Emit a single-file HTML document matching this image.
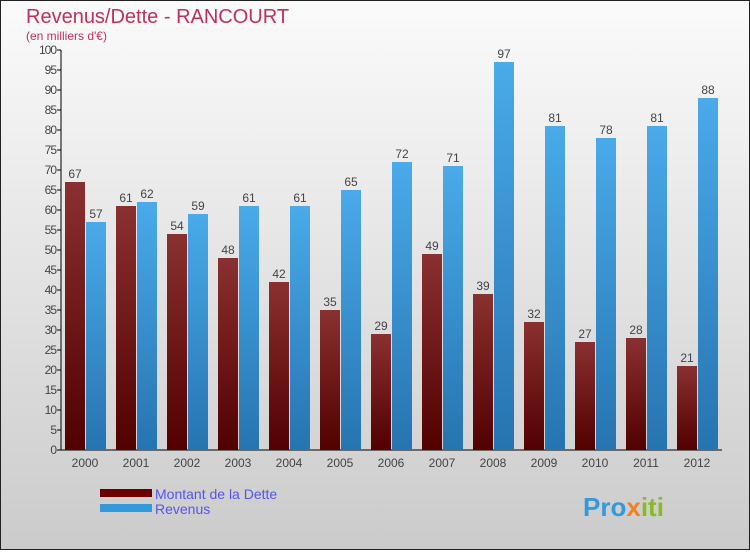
<!DOCTYPE html>
<html><head><meta charset="utf-8"><style>
body{margin:0;width:750px;height:550px;overflow:hidden;font-family:"Liberation Sans",sans-serif}
</style></head><body>
<svg width="750" height="550" xmlns="http://www.w3.org/2000/svg">
<defs>
<linearGradient id="bg" x1="0" y1="0" x2="0" y2="1"><stop offset="0" stop-color="#fbfbfb"/><stop offset="1" stop-color="#cbcbcb"/></linearGradient>
<linearGradient id="gd" x1="0" y1="0" x2="0" y2="1"><stop offset="0" stop-color="#8a3030"/><stop offset="1" stop-color="#520000"/></linearGradient>
<linearGradient id="gr" x1="0" y1="0" x2="0" y2="1"><stop offset="0" stop-color="#4aaaea"/><stop offset="1" stop-color="#2674b0"/></linearGradient>
</defs>
<rect x="0.5" y="0.5" width="749" height="549" fill="url(#bg)" stroke="#222"/>
<text x="26" y="23" font-size="20" fill="#c0305a">Revenus/Dette - RANCOURT</text>
<text x="26" y="40" font-size="12" fill="#c0305a">(en milliers d'€)</text>
<g id="axes"></g>
<g id="bars"></g>
<rect x="100" y="489" width="52" height="8" fill="#6a0000"/>
<text x="155" y="499" font-size="14" fill="#5555ee">Montant de la Dette</text>
<rect x="100" y="504" width="52" height="8" fill="#3399dd"/>
<text x="155" y="514" font-size="14" fill="#5555ee">Revenus</text>
<text x="583" y="516" font-size="26" font-weight="bold" fill="#3399dd">Pro<tspan fill="#f08020">x</tspan><tspan fill="#88bb22">iti</tspan></text>
</svg>
<script>
const years=["2000","2001","2002","2003","2004","2005","2006","2007","2008","2009","2010","2011","2012"];
const dette=[67,61,54,48,42,35,29,49,39,32,27,28,21];
const revenus=[57,62,59,61,61,65,72,71,97,81,78,81,88];
const yTicks=[0,5,10,15,20,25,30,35,40,45,50,55,60,65,70,75,80,85,90,95,100];
const NS="http://www.w3.org/2000/svg";
const y=v=>450-v*4;
const gx=i=>65+i*51;
const ax=document.getElementById('axes'),bg=document.getElementById('bars');
function mk(tag,attrs,parent,txt){const e=document.createElementNS(NS,tag);for(const k in attrs)e.setAttribute(k,attrs[k]);if(txt!==undefined)e.textContent=txt;parent.appendChild(e);return e;}
let l=mk('line',{x1:61,y1:50,x2:61,y2:450,stroke:'#000'},ax);


l=mk('line',{x1:61,y1:450,x2:722,y2:450,stroke:'#000'},ax);


yTicks.forEach(t=>{
  const tk=mk('line',{x1:57,y1:y(t),x2:61,y2:y(t),stroke:'#000'},ax);
  
  
  const tl=mk('text',{x:56,y:y(t)+4,'font-size':12,'text-anchor':'end',fill:'#444','letter-spacing':'-1'},ax,String(t));
  
  
});
years.forEach((yr,i)=>{
  const x0=gx(i);
  const xl=mk('text',{x:x0+20,y:467,'font-size':12,'text-anchor':'middle',fill:'#444'},ax,yr);
  
  
  const b1=mk('rect',{x:x0,y:y(dette[i]),width:20,height:dette[i]*4,fill:'url(#gd)'},bg);
  
  
  const b2=mk('rect',{x:x0+21,y:y(revenus[i]),width:20,height:revenus[i]*4,fill:'url(#gr)'},bg);
  
  
  const v1=mk('text',{x:x0+10,y:y(dette[i])-4,'font-size':12,'text-anchor':'middle',fill:'#444'},bg,String(dette[i]));
  
  
  const v2=mk('text',{x:x0+31,y:y(revenus[i])-4,'font-size':12,'text-anchor':'middle',fill:'#444'},bg,String(revenus[i]));
  
  
});
</script>
</body></html>
